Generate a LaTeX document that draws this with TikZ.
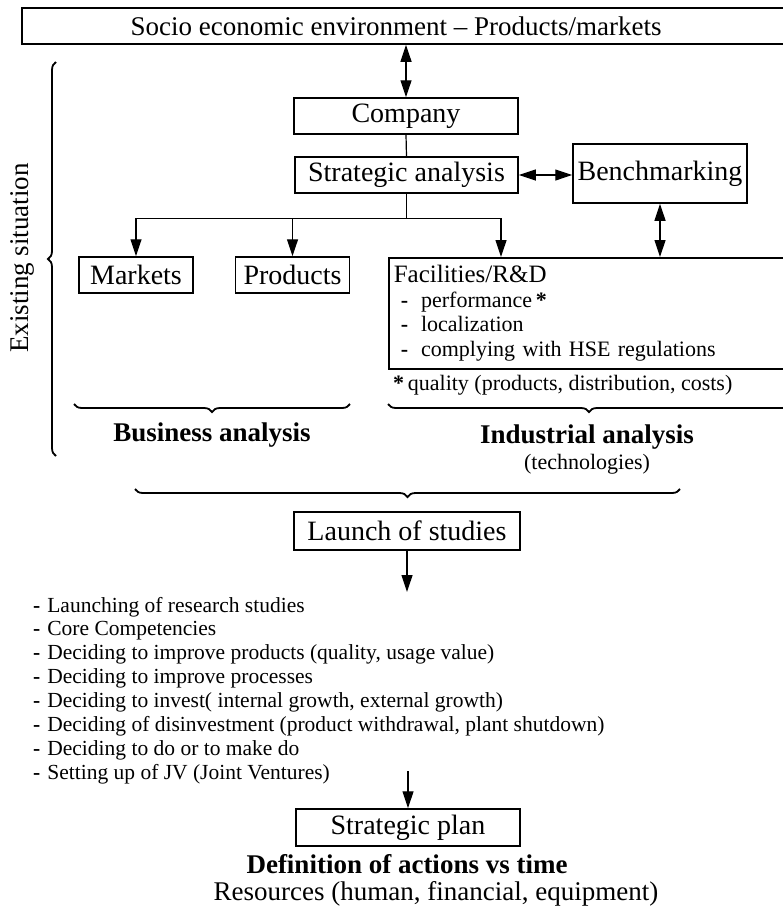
\documentclass[tikz,border=0pt]{standalone}
\usepackage{fontspec}
\setmainfont{Liberation Serif}
\usetikzlibrary{arrows.meta,positioning,calc,decorations.pathreplacing}
\newcommand{\bigtxt}{\fontsize{27}{30}\selectfont}
\newcommand{\boxtxt}{\fontsize{28}{30}\selectfont}
\newcommand{\midtxt}{\fontsize{22}{24.5}\selectfont}
\newcommand{\listtxt}{\fontsize{21.5}{23.9}\selectfont}
\tikzset{
  box/.style={draw=black, line width=1.5pt, inner sep=0pt, align=center, font=\boxtxt},
  lbl/.style={inner sep=0pt, font=\bigtxt},
  arr/.style={-{Triangle[length=17pt,width=11pt]}, line width=1.2pt},
  dblarr/.style={{Triangle[length=17pt,width=11pt]}-{Triangle[length=17pt,width=11pt]}, line width=1.2pt},
  link/.style={line width=1.2pt},
  brc/.style={decorate, decoration={brace, amplitude=8pt}, line width=1.8pt}
}

\begin{document}
\begin{tikzpicture}[x=1pt, y=-1pt]
  \useasboundingbox (0,0) rectangle (783,913);
  \clip (0,0) rectangle (783,913);

  % environment and company
  \node[box, anchor=west, minimum width=780pt, minimum height=36pt] (env) at (21,26) {};
  \node[lbl] (envtxt) at (396,26) {Socio economic environment -- Products/markets};
  \node[box, minimum width=224pt, minimum height=36pt] (comp) at (406,116) {Company};
  \node[box, minimum width=223pt, minimum height=36pt] (sa) at (406.5,175) {Strategic analysis};
  \node[box, minimum width=174pt, minimum height=59pt] (bench) at (660,173.5) {Benchmarking};

  \draw[dblarr] (comp.north |- env.south) -- (comp.north);
  \draw[link] (comp.south) -- (sa.north);
  \draw[dblarr] (sa.east) -- (sa.east -| bench.west);

  % analysis blocks
  \node[box, minimum width=114pt, minimum height=36pt] (mark) at (136,275) {Markets};
  \node[box, right=41pt of mark, minimum width=114pt, minimum height=36pt] (prod) {Products};
  \node[box, anchor=north west, align=left, text width=402pt, inner xsep=5pt,
    minimum height=111pt, font=\midtxt] (fac) at (388,257)
    {{\fontsize{25}{24.5}\selectfont Facilities/R\&D}\\
     \hspace*{7pt}\textbf{-}\hspace{13pt}performance\,\textbf{*}\\
     \hspace*{7pt}\textbf{-}\hspace{13pt}localization\\
     \hspace*{7pt}\textbf{-}\hspace{13pt}complying with HSE regulations};
  \node[lbl, anchor=west, font=\midtxt] (qual) at (393,385) {\textbf{*}\,quality (products, distribution, costs)};

  \draw[arr] (sa.south) -- ++(0,25) -| (mark.north);
  \draw[arr] (sa.south) -- ++(0,25) -| (prod.north);
  \draw[arr] (sa.south) -- ++(0,25) -| ($(fac.north west)+(113,0)$);
  \draw[dblarr] (bench.south) -- (bench.south |- fac.north);

  % braces
  \draw[brc] (350,404) -- (74,404);
  \draw[brc] (790,404) -- (388,404);
  \draw[brc] (56,456) -- (56,62);
  \draw[brc] (680,489) -- (135,489);

  \node[lbl, rotate=90] (exist) at (22,258) {Existing situation};
  \node[lbl, font=\bigtxt\bfseries] (bus) at (212,435) {Business analysis};
  \node[lbl, font=\bigtxt\bfseries] (ind) at (587,437) {Industrial analysis};
  \node[lbl, font=\midtxt, below=5pt of ind] (tech) {(technologies)};

  % studies
  \node[box, minimum width=226pt, minimum height=38pt] (launch) at (407,531) {Launch of studies};
  \coordinate (lend) at (407,592);
  \draw[arr] (launch.south) -- (lend);

  \foreach \txt [count=\i] in {Launching of research studies, Core Competencies,
      {Deciding to improve products (quality, usage value)}, Deciding to improve processes,
      {Deciding to invest( internal growth, external growth)},
      {Deciding of disinvestment (product withdrawal, plant shutdown)},
      Deciding to do or to make do, Setting up of JV (Joint Ventures)}
    \node[lbl, anchor=base west, font=\listtxt] (item\i) at (33,{612+23.9*(\i-1)}) {\textbf{-}\hspace{7pt}\txt};

  % plan
  \node[box, minimum width=224pt, minimum height=37pt] (plan) at (408,827.5) {Strategic plan};
  \coordinate (pstart) at (408,771);
  \draw[arr] (pstart) -- (plan.north);
  \node[lbl, anchor=base, font=\bigtxt\bfseries] (def) at (407,873) {Definition of actions vs time};
  \node[lbl, anchor=base] (res) at (436,900) {Resources (human, financial, equipment)};
\end{tikzpicture}
\end{document}
